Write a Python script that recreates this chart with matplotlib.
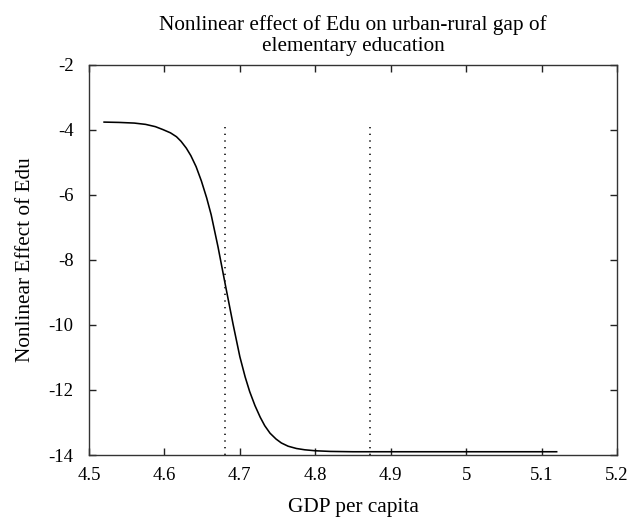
import matplotlib
matplotlib.use("Agg")
import matplotlib.pyplot as plt

gdp = [4.520, 4.540, 4.560, 4.575, 4.588, 4.598, 4.608, 4.616, 4.622, 4.629,
       4.635, 4.642, 4.649, 4.656, 4.662, 4.671, 4.681, 4.691, 4.700, 4.707,
       4.713, 4.720, 4.727, 4.733, 4.740, 4.748, 4.755, 4.764, 4.775, 4.786,
       4.800, 4.820, 4.850, 4.900, 5.000, 5.120]
effect = [-3.77, -3.78, -3.80, -3.84, -3.91, -4.00, -4.10, -4.22, -4.36, -4.57,
          -4.80, -5.14, -5.58, -6.10, -6.62, -7.60, -8.80, -9.98, -10.98, -11.60,
          -12.05, -12.48, -12.84, -13.10, -13.33, -13.51, -13.63, -13.73, -13.80, -13.84,
          -13.87, -13.89, -13.90, -13.90, -13.90, -13.90]
thresholds = [4.680, 4.873]
threshold_top = -3.84

x_ticks = [4.5, 4.6, 4.7, 4.8, 4.9, 5.0, 5.1, 5.2]
x_tick_labels = ["4.5", "4.6", "4.7", "4.8", "4.9", "5", "5.1", "5.2"]
y_ticks = [-14, -12, -10, -8, -6, -4, -2]
y_tick_labels = ["-14", "-12", "-10", "-8", "-6", "-4", "-2"]

title = "Nonlinear effect of Edu on urban-rural gap of\nelementary education"
xlabel = "GDP per capita"
ylabel = "Nonlinear Effect of Edu"

plt.rcParams['font.family'] = ['Liberation Serif', 'DejaVu Serif']

fig = plt.figure(figsize=(6.32, 5.18), dpi=100)
ax = fig.add_axes([89/632, 1 - 455/518, (617-89)/632, (455-64.5)/518])

ax.plot(gdp, effect, color='black', lw=1.15, solid_joinstyle='round')
for t in thresholds:
    ax.plot([t, t], [-14, threshold_top], color='#111111', lw=1.2,
            linestyle=(0, (0.8, 3.2)))

ax.set_xlim(4.5, 5.2)
ax.set_ylim(-14, -2)
ax.set_xticks(x_ticks)
ax.set_xticklabels(x_tick_labels)
ax.set_yticks(y_ticks)
ax.set_yticklabels(y_tick_labels)
ax.tick_params(direction='in', length=5, width=1.0, top=True, right=True,
               labelsize=13.5, color='#222222')
ax.tick_params(axis='x', pad=8.5)
ax.tick_params(axis='y', pad=11)
for s in ax.spines.values():
    s.set_linewidth(1.0)
    s.set_color('#333333')

ax.set_title(title, fontsize=15.3, pad=9.5, linespacing=1.17)
ax.set_xlabel(xlabel, fontsize=15.3, labelpad=10.5)
ax.set_ylabel(ylabel, fontsize=15.3, labelpad=10)

fig.savefig("out.png", dpi=100)
